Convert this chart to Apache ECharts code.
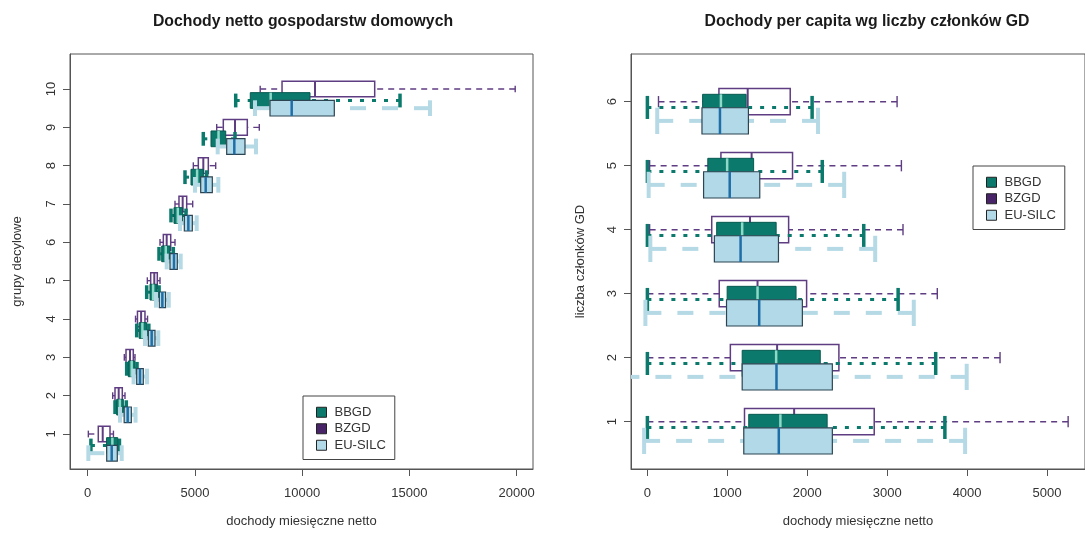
<!DOCTYPE html>
<html>
<head>
<meta charset="utf-8">
<script src="https://cdn.jsdelivr.net/npm/echarts@6/dist/echarts.min.js"></script>
<style>
html,body{margin:0;padding:0;background:#fff;}
#chart{width:1085px;height:534px;}
</style>
</head>
<body>
<div id="chart"></div>
<script>
// ---------- DATA ----------
const seriesNames = ['BBGD', 'BZGD', 'EU-SILC'];
const deciles = [1, 2, 3, 4, 5, 6, 7, 8, 9, 10];
const members = [1, 2, 3, 4, 5, 6];
const xTicksLeft = [0, 5000, 10000, 15000, 20000];
const xTicksRight = [0, 1000, 2000, 3000, 4000, 5000];

// each row: [lower whisker, Q1, median, Q3, upper whisker]
const dochBZGD = [
  [30, 494, 700, 1040, 1200],
  [1165, 1273, 1445, 1613, 1739],
  [1707, 1786, 1972, 2126, 2205],
  [2230, 2320, 2490, 2670, 2790],
  [2780, 2937, 3105, 3245, 3371],
  [3371, 3526, 3683, 3870, 4070],
  [4070, 4256, 4428, 4615, 4895],
  [4924, 5157, 5390, 5623, 5967],
  [6014, 6322, 6867, 7441, 8000],
  [8042, 9060, 10597, 13380, 19930]
];
const dochBBGD = [
  [150, 880, 1150, 1400, 1480],
  [1273, 1352, 1500, 1660, 1800],
  [1817, 1894, 2050, 2205, 2300],
  [2284, 2400, 2550, 2750, 2850],
  [2750, 2904, 3050, 3230, 3330],
  [3324, 3450, 3640, 3837, 3992],
  [3883, 4023, 4200, 4428, 4583],
  [4536, 4816, 5100, 5390, 5548],
  [5389, 5748, 6100, 6434, 6867],
  [6900, 7580, 8531, 10364, 14560]
];
const dochEUSILC = [
  [30, 886, 1119, 1380, 1585],
  [1506, 1700, 1864, 2035, 2230],
  [2140, 2284, 2438, 2593, 2765],
  [2671, 2826, 2983, 3138, 3291],
  [3184, 3340, 3480, 3630, 3780],
  [3683, 3837, 4023, 4178, 4336],
  [4303, 4505, 4692, 4878, 5081],
  [5002, 5268, 5501, 5810, 6090],
  [6061, 6480, 6835, 7333, 7846],
  [7800, 8499, 9510, 11497, 15958]
];

const pcBZGD = [
  [0, 1215, 1836, 2838, 5264],
  [0, 1038, 1623, 2396, 4412],
  [0, 899, 1378, 1992, 3627],
  [28, 805, 1284, 1767, 3198],
  [28, 920, 1304, 1816, 3178],
  [139, 895, 1255, 1787, 3124]
];
const pcBBGD = [
  [0, 1268, 1664, 2249, 3722],
  [0, 1186, 1611, 2163, 3607],
  [0, 998, 1378, 1860, 3137],
  [0, 867, 1186, 1611, 2707],
  [0, 756, 998, 1329, 2188],
  [0, 691, 920, 1235, 2061]
];
const pcEUSILC = [
  [-41, 1206, 1644, 2314, 3975],
  [-300, 1186, 1615, 2314, 3995],
  [-25, 990, 1399, 1939, 3333],
  [37, 838, 1166, 1640, 2850],
  [16, 703, 1030, 1406, 2462],
  [123, 683, 908, 1264, 2135]
];

// ---------- STYLES ----------
const FONT = '"Liberation Sans", Arial, Helvetica, sans-serif';
const TXT = '#333333';
const FRAME = '#555555';

const styleBZGD = {
  fill: 'rgba(0,0,0,0)', border: '#5f3d82', bW: 1.5,
  whisker: '#5f3d82', wW: 1.4, dash: [6, 5],
  capW: 1.4, capHalf: 0.088,
  median: '#5f3d82', mW: 2,
  legend: '#4a2468'
};
const styleBBGD = {
  fill: '#0b7a6c', border: '#075a50', bW: 1,
  whisker: '#0b7a6c', wW: 3, dash: [4, 8],
  capW: 3.5, capHalf: 0.18,
  median: '#8fd9c9', mW: 2.5,
  legend: '#0b7a6c'
};
const styleEU = {
  fill: '#b1d9e7', border: '#2d4452', bW: 1.2,
  whisker: '#b5dae6', wW: 4, dash: [16, 16],
  capW: 4, capHalf: 0.205,
  median: '#1f6ea8', mW: 2.5,
  legend: '#b1d9e7'
};

function boxRenderer(cfg, offset) {
  return function (params, api) {
    const y = api.value(0) + offset;
    const lo = api.value(1), q1 = api.value(2), med = api.value(3), q3 = api.value(4), hi = api.value(5);
    const unit = Math.abs(api.size([0, 1])[1]);
    const half = 0.205 * unit;
    const capHalf = cfg.capHalf * unit;
    const pLo = api.coord([lo, y]);
    const pQ1 = api.coord([q1, y]);
    const pMed = api.coord([med, y]);
    const pQ3 = api.coord([q3, y]);
    const pHi = api.coord([hi, y]);
    const cy = pQ1[1];
    const wStyle = { stroke: cfg.whisker, lineWidth: cfg.wW, lineDash: cfg.dash, lineCap: 'butt', fill: null };
    const cStyle = { stroke: cfg.whisker, lineWidth: cfg.capW, fill: null };
    return {
      type: 'group',
      children: [
        { type: 'line', shape: { x1: pLo[0], y1: cy, x2: pQ1[0], y2: cy }, style: wStyle },
        { type: 'line', shape: { x1: pHi[0], y1: cy, x2: pQ3[0], y2: cy }, style: wStyle },
        { type: 'line', shape: { x1: pLo[0], y1: cy - capHalf, x2: pLo[0], y2: cy + capHalf }, style: cStyle },
        { type: 'line', shape: { x1: pHi[0], y1: cy - capHalf, x2: pHi[0], y2: cy + capHalf }, style: cStyle },
        { type: 'rect', shape: { x: pQ1[0], y: cy - half, width: pQ3[0] - pQ1[0], height: 2 * half },
          style: { fill: cfg.fill, stroke: cfg.border, lineWidth: cfg.bW } },
        { type: 'line', shape: { x1: pMed[0], y1: cy - half, x2: pMed[0], y2: cy + half },
          style: { stroke: cfg.median, lineWidth: cfg.mW } }
      ]
    };
  };
}

function mkSeries(name, cfg, cats, rows, offset, gi) {
  return {
    type: 'custom', name: name,
    xAxisIndex: gi, yAxisIndex: gi,
    clip: true, silent: true,
    dimensions: ['pos', 'lo', 'q1', 'med', 'q3', 'hi'],
    encode: { y: 0, x: [1, 2, 3, 4, 5] },
    itemStyle: { color: cfg.legend, borderColor: '#222', borderWidth: 1 },
    renderItem: boxRenderer(cfg, offset),
    data: cats.map((c, i) => [c].concat(rows[i]))
  };
}

const plain = v => String(v);

function xAxisCfg(gi, min, max, ticks) {
  return {
    type: 'value', gridIndex: gi, min: min, max: max,
    axisLine: { show: true, onZero: false, lineStyle: { color: FRAME, width: 1 } },
    splitLine: { show: false },
    axisTick: { show: true, length: 7, inside: false, customValues: ticks, lineStyle: { color: FRAME } },
    axisLabel: { customValues: ticks, formatter: plain, fontSize: 13, color: TXT, fontFamily: FONT, margin: 18 },
    name: 'dochody miesięczne netto', nameLocation: 'middle', nameGap: 46,
    nameTextStyle: { fontSize: 13, color: TXT, fontFamily: FONT }
  };
}
function yAxisCfg(gi, min, max, ticks, name, gap) {
  return {
    type: 'value', gridIndex: gi, min: min, max: max,
    axisLine: { show: true, onZero: false, lineStyle: { color: FRAME, width: 1 } },
    splitLine: { show: false },
    axisTick: { show: true, length: 7, inside: false, customValues: ticks, lineStyle: { color: FRAME } },
    axisLabel: { customValues: ticks, formatter: plain, rotate: 90, fontSize: 13, color: TXT, fontFamily: FONT, margin: 12 },
    name: name, nameLocation: 'middle', nameGap: gap, nameRotate: 90,
    nameTextStyle: { fontSize: 13, color: TXT, fontFamily: FONT }
  };
}

function legendCfg(left, top) {
  return {
    left: left, top: top, orient: 'vertical', selectedMode: false,
    padding: [8, 9, 6, 13], itemGap: 0, itemWidth: 10, itemHeight: 10,
    borderColor: '#444', borderWidth: 1, backgroundColor: '#fff',
    textStyle: { fontSize: 13, color: TXT, fontFamily: FONT, lineHeight: 16.5, padding: [0, 0, 0, 3] },
    data: [
      { name: 'BBGD', icon: 'rect', itemStyle: { color: styleBBGD.legend, borderColor: '#222', borderWidth: 1 } },
      { name: 'BZGD', icon: 'rect', itemStyle: { color: styleBZGD.legend, borderColor: '#222', borderWidth: 1 } },
      { name: 'EU-SILC', icon: 'rect', itemStyle: { color: styleEU.legend, borderColor: '#222', borderWidth: 1 } }
    ]
  };
}

const chart = echarts.init(document.getElementById('chart'), null, { renderer: 'canvas' });
chart.setOption({
  animation: false,
  backgroundColor: '#ffffff',
  textStyle: { fontFamily: FONT },
  title: [
    { text: 'Dochody netto gospodarstw domowych', left: 298, top: 9, textAlign: 'center',
      textStyle: { fontSize: 15.8, fontWeight: 'bold', color: '#1a1a1a', fontFamily: FONT } },
    { text: 'Dochody per capita wg liczby członków GD', left: 862, top: 9, textAlign: 'center',
      textStyle: { fontSize: 15.8, fontWeight: 'bold', color: '#1a1a1a', fontFamily: FONT } }
  ],
  grid: [
    { left: 70, top: 54, width: 463, height: 415, show: true, borderColor: FRAME, borderWidth: 1, backgroundColor: 'transparent', containLabel: false },
    { left: 631, top: 54, width: 463, height: 415, show: true, borderColor: FRAME, borderWidth: 1, backgroundColor: 'transparent', containLabel: false }
  ],
  xAxis: [
    xAxisCfg(0, -825, 20760, xTicksLeft),
    xAxisCfg(1, -205, 5475, xTicksRight)
  ],
  yAxis: [
    yAxisCfg(0, 0.087, 10.913, deciles, 'grupy decylowe', 46),
    yAxisCfg(1, 0.261, 6.745, members, 'liczba członków GD', 44)
  ],
  legend: [legendCfg(303, 396), legendCfg(973, 166)],
  series: [
    mkSeries('BZGD', styleBZGD, deciles, dochBZGD, 0, 0),
    mkSeries('BBGD', styleBBGD, deciles, dochBBGD, -0.3, 0),
    mkSeries('EU-SILC', styleEU, deciles, dochEUSILC, -0.5, 0),
    mkSeries('BZGD', styleBZGD, members, pcBZGD, 0, 1),
    mkSeries('BBGD', styleBBGD, members, pcBBGD, -0.09, 1),
    mkSeries('EU-SILC', styleEU, members, pcEUSILC, -0.3, 1)
  ]
});
</script>
</body>
</html>
